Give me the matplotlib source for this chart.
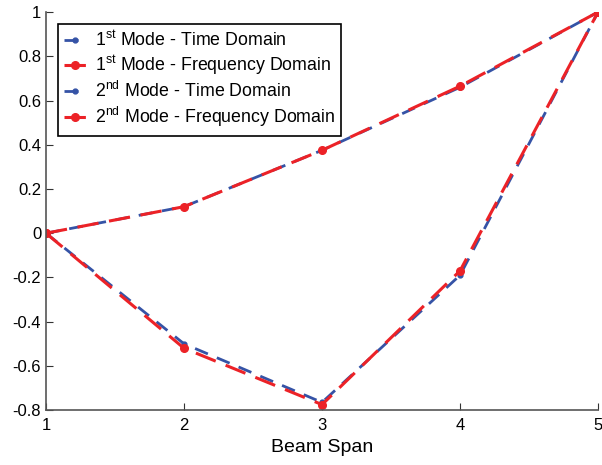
import matplotlib
matplotlib.use("Agg")
import matplotlib.pyplot as plt

plt.rcParams['font.family'] = ['Liberation Sans', 'DejaVu Sans']
plt.rcParams['mathtext.fontset'] = 'custom'
plt.rcParams['mathtext.rm'] = 'Liberation Sans'

span = [1, 2, 3, 4, 5]
mode1_time = [0, 0.12, 0.375, 0.66, 1.0]
mode1_freq = [0, 0.12, 0.375, 0.665, 1.0]
mode2_time = [0, -0.50, -0.765, -0.19, 1.0]
mode2_freq = [0, -0.52, -0.775, -0.17, 1.0]

blue = '#3553a6'
red = '#ec2227'

fig = plt.figure(figsize=(6.02, 4.65), dpi=100)
ax = fig.add_axes([0.0764, 0.118, 0.917, 0.856])

ax.plot(span, mode1_time, color=blue, linestyle=(0, (5, 3.5)), linewidth=2, marker='o', markersize=3.5,
        label=r'1$^{\rm st}$ Mode - Time Domain')
ax.plot(span, mode1_freq, color=red, linestyle=(0, (7, 3.5)), linewidth=2.2, marker='o', markersize=5.5,
        label=r'1$^{\rm st}$ Mode - Frequency Domain')
ax.plot(span, mode2_time, color=blue, linestyle=(0, (5, 3.5)), linewidth=2, marker='o', markersize=3.5,
        label=r'2$^{\rm nd}$ Mode - Time Domain')
ax.plot(span, mode2_freq, color=red, linestyle=(0, (7, 3.5)), linewidth=2.2, marker='o', markersize=5.5,
        label=r'2$^{\rm nd}$ Mode - Frequency Domain')

ax.set_xlim(1, 5)
ax.set_ylim(-0.8, 1)
ax.set_xticks([1, 2, 3, 4, 5])
ax.set_yticks([-0.8, -0.6, -0.4, -0.2, 0, 0.2, 0.4, 0.6, 0.8, 1])
ax.set_yticklabels(['-0.8', '-0.6', '-0.4', '-0.2', '0', '0.2', '0.4', '0.6', '0.8', '1'])
ax.tick_params(direction='in', labelsize=12, length=5, color='#333333')
ax.tick_params(axis='x', pad=6)
ax.spines['top'].set_visible(False)
ax.spines['right'].set_visible(False)
for s in ['left', 'bottom']:
    ax.spines[s].set_color('#555555')
    ax.spines[s].set_linewidth(1.2)
ax.set_xlabel('Beam Span', fontsize=14, labelpad=4)

leg = ax.legend(loc='upper left', bbox_to_anchor=(0.022, 0.97), fontsize=12.8, frameon=True,
                fancybox=False, edgecolor='black', framealpha=1, handlelength=1.2, borderpad=0.35,
                labelspacing=0.22, handletextpad=0.5, borderaxespad=0)
leg.get_frame().set_linewidth(1.2)

fig.savefig('out.png', dpi=100)
